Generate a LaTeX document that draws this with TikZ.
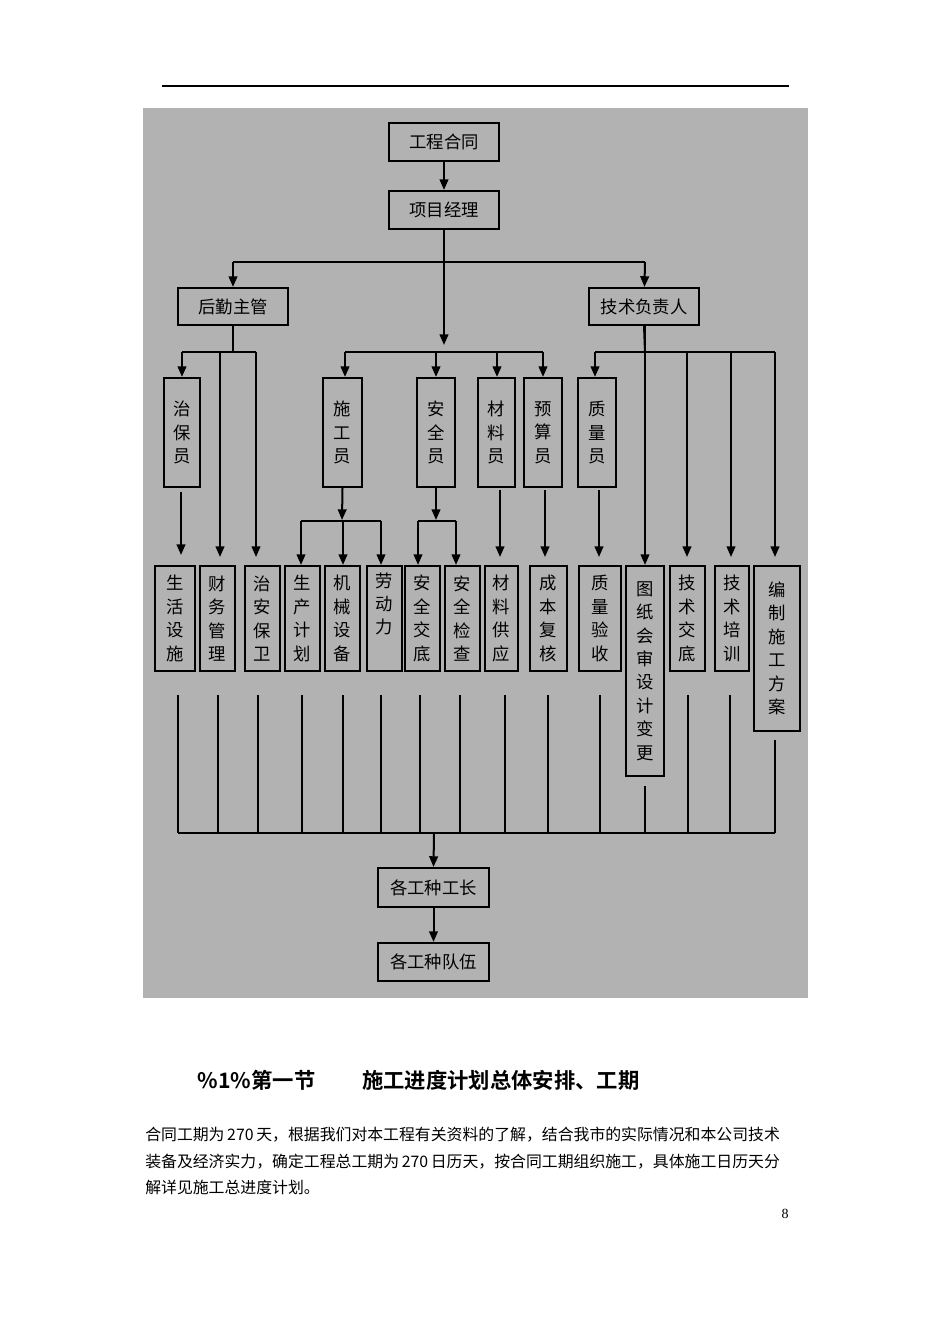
\documentclass[tikz,border=0pt]{standalone}
\usepackage{fontspec}
\setmainfont{Liberation Serif}
\newfontfamily\cjk{Noto Sans CJK SC}
\newfontfamily\cjkb{Noto Sans CJK SC}[BoldFont={Noto Sans CJK SC Bold}]
\usetikzlibrary{arrows.meta}
\begin{document}
\begin{tikzpicture}[x=0.75pt,y=-0.75pt,
  box/.style={draw=black,line width=1.6pt,inner sep=0pt,align=center,
    font=\cjk\fontsize{13}{17.6}\selectfont},
  ln/.style={line width=1.5pt},
  ar/.style={line width=1.5pt,-{Triangle[length=8pt,width=6.5pt]}}]
\useasboundingbox (0,0) rectangle (950,1344);
\fill[white] (0,0) rectangle (950,1344);
\draw[line width=0.8pt] (162,86) -- (789,86);
\fill[fill={rgb,255:red,178;green,178;blue,178}] (143,108) rectangle (808,998);
\newcommand\bx[6]{\node[box,minimum width={(#4-#2)*0.75pt},minimum height={(#5-#3)*0.75pt}] (#1) at ({(#2+#4)/2},{(#3+#5)/2}) {#6};}
\bx{ht}{389}{123}{499}{161}{工程合同}
\bx{jl}{389}{191}{499}{229}{项目经理}
\bx{hq}{178}{288}{288}{325}{后勤主管}
\bx{js}{589}{288}{699}{325}{技术负责人}
\bx{zb}{164}{378}{200}{487}{治\\保\\员}
\bx{sg}{323}{378}{362}{487}{施\\工\\员}
\bx{aq}{417}{378}{455}{487}{安\\全\\员}
\bx{cl}{478}{378}{515}{487}{材\\料\\员}
\bx{ys}{524}{378}{562}{487}{预\\算\\员}
\bx{zl}{578}{378}{616}{487}{质\\量\\员}
\bx{b1}{155}{566}{195}{671}{生\\活\\设\\施}
\bx{b2}{200}{566}{235}{671}{财\\务\\管\\理}
\bx{b3}{245}{566}{280}{671}{治\\安\\保\\卫}
\bx{b4}{285}{566}{320}{671}{生\\产\\计\\划}
\bx{b5}{325}{566}{360}{671}{机\\械\\设\\备}
\bx{b6}{367}{566}{402}{671}{劳\\动\\力\\\strut}
\bx{b7}{405}{566}{440}{671}{安\\全\\交\\底}
\bx{b8}{445}{566}{480}{671}{安\\全\\检\\查}
\bx{b9}{485}{566}{518}{671}{材\\料\\供\\应}
\bx{b10}{530}{566}{567}{671}{成\\本\\复\\核}
\bx{b11}{579}{566}{621}{671}{质\\量\\验\\收}
\bx{b12}{626}{566}{664}{776}{图\\纸\\会\\审\\设\\计\\变\\更}
\bx{b13}{670}{566}{705}{671}{技\\术\\交\\底}
\bx{b14}{715}{566}{749}{671}{技\\术\\培\\训}
\bx{b15}{754}{566}{800}{731}{编\\制\\施\\工\\方\\案}
\bx{gz}{378}{868}{489}{907}{各工种工长}
\bx{dw}{378}{943}{489}{981}{各工种队伍}
% top
\draw[ar] (ht) -- (jl);
\coordinate (h1) at (233,262); \coordinate (h2) at (645,262);
\draw[ln] (jl.south) -- (444,262);
\draw[ln] (h1) -- (h2);
\draw[ar] (h1) -- (hq);
\draw[ar] (h2) -- (js);
\draw[ar] (444,262) -- (444,345);
% middle horizontal
\coordinate (m1) at (345,352); \coordinate (m2) at (543,352);
\draw[ln] (m1) -- (m2);
\draw[ar] (m1) -- (sg.north-|m1);
\draw[ar] (436,352) -- (aq.north-|436,0);
\draw[ar] (497,352) -- (cl.north-|497,0);
\draw[ar] (m2) -- (ys.north-|m2);
% logistics
\coordinate (l1) at (182,352); \coordinate (l2) at (256,352);
\draw[ln] (hq.south) -- (233,352);
\draw[ln] (l1) -- (l2);
\draw[ar] (l1) -- (zb.north-|l1);
\draw[ar] (220,352) -- (220,557);
\draw[ar] (l2) -- (256,557);
% technical
\coordinate (t1) at (595,352); \coordinate (t2) at (775,352);
\draw[ln] (js.south) -- (645,352);
\draw[ln] (t1) -- (t2);
\draw[ar] (t1) -- (zl.north-|t1);
\draw[ar] (645,325) -- (b12.north);
\draw[ar] (687,352) -- (687,557);
\draw[ar] (731,352) -- (731,557);
\draw[ar] (t2) -- (775,557);
% middle to bottom
\draw[ar] (181,492) -- (181,555);
\draw[ar] (sg.south) -- (342,520);
\draw[ln] (301,521) -- (381,521);
\draw[ar] (301,521) -- (b4.north-|301,0);
\draw[ar] (343,521) -- (b5.north-|343,0);
\draw[ar] (381,521) -- (b6.north-|381,0);
\draw[ar] (aq.south) -- (436,520);
\draw[ln] (418,521) -- (456,521);
\draw[ar] (418,521) -- (b7.north-|418,0);
\draw[ar] (456,521) -- (b8.north-|456,0);
\draw[ar] (500,490) -- (500,557);
\draw[ar] (545,490) -- (545,557);
\draw[ar] (599,490) -- (599,557);
% bottom collector
\foreach \x in {178,218,258,302,343,381,420,460,505,548,600,688,730}
  \draw[ln] (\x,695) -- (\x,833);
\draw[ln] (645,786) -- (645,833);
\draw[ln] (775,740) -- (775,833);
\draw[ln] (178,833) -- (775,833);
\draw[ar] (434,833) -- (gz.north);
\draw[ar] (gz) -- (dw);
% text
\node[anchor=west,font=\cjkb\bfseries\fontsize{16}{18}\selectfont] (hd) at (193,1080) {\%1\%第一节\hspace{2.2em}施工进度计划总体安排、工期};
\node[anchor=north west,inner sep=0pt,align=left,font=\cjk\fontsize{11.9}{19.9}\selectfont] (pa) at (145,1127)
{合同工期为\,270\,天，根据我们对本工程有关资料的了解，结合我市的实际情况和本公司技术\\装备及经济实力，确定工程总工期为\,270\,日历天，按合同工期组织施工，具体施工日历天分\\解详见施工总进度计划。};
\node[font=\fontsize{10.5}{12}\selectfont] (pg) at (785,1214) {8};
\end{tikzpicture}
\end{document}
